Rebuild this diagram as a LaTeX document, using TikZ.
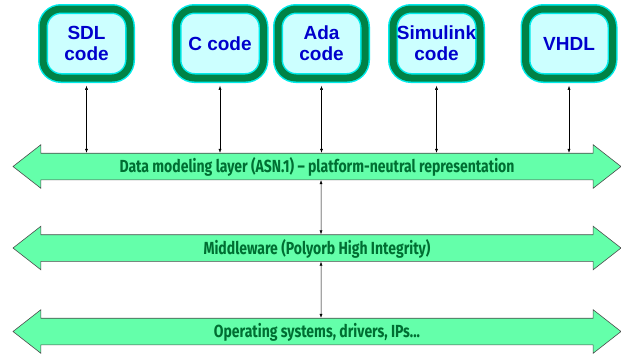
\documentclass[tikz,border=0pt]{standalone}
\usepackage{fontspec}
\setmainfont{Liberation Sans}
\newfontfamily\bandfont[FakeStretch=0.8]{Fira Sans}
\usetikzlibrary{shapes.arrows,arrows.meta}

\definecolor{lagoon}{RGB}{0,235,235}
\definecolor{forest}{RGB}{0,130,70}
\definecolor{ice}{RGB}{204,255,255}
\definecolor{ink}{RGB}{0,0,204}
\definecolor{mint}{RGB}{100,255,170}
\definecolor{leaf}{RGB}{0,110,50}

\tikzset{
	lang/.style={rectangle,rounded corners=18pt,draw=lagoon,line width=1.5pt,double=forest,double distance=7pt,fill=ice,
		minimum width=87pt,minimum height=69pt,inner sep=0pt,align=center,text=ink,font=\fontsize{19}{21}\selectfont\bfseries},
	layer/.style={double arrow,draw=black!70,line width=0.6pt,fill=mint,double arrow head extend=8.5pt,double arrow tip angle=76,
		minimum height=608pt,text height=12.5pt,text depth=0.5pt,inner ysep=6.5pt,text=leaf,font=\bandfont\fontsize{17.5}{20}\selectfont\bfseries},
	link/.style={{Latex[length=4pt,width=3pt]}-{Latex[length=4pt,width=3pt]},line width=0.5pt}
}

\begin{document}
\begin{tikzpicture}[x=1pt,y=-1pt]
	\useasboundingbox (0,0) rectangle (621,354);

	\node[lang] (SDL) at(86.5,43.5) {SDL\\code};
	\node[lang] (C) at(220,43.5) {C code};
	\node[lang] (Ada) at(321.5,43.5) {Ada\\code};
	\node[lang] (Sim) at(436.5,43.5) {Simulink\\code};
	\node[lang] (VHDL) at(569,43.5) {VHDL};

	\node[layer] (data) at(317,166.5) {Data modeling layer (ASN.1) – platform-neutral representation};
	\node[layer] (mw) at(317,248) {Middleware (Polyorb High Integrity)};
	\node[layer] (os) at(317,331.5) {Operating systems, drivers, IPs...};

	\draw[link,shorten <=7pt] (SDL.south)to(SDL.south |- data.north);
	\draw[link,shorten <=7pt] (C.south)to(C.south |- data.north);
	\draw[link,shorten <=7pt] (Ada.south)to(Ada.south |- data.north);
	\draw[link,shorten <=7pt] (Sim.south)to(Sim.south |- data.north);
	\draw[link,shorten <=7pt] (VHDL.south)to(VHDL.south |- data.north);

	\draw[link] ([xshift=4pt]data.south)to([xshift=4pt]mw.north);
	\draw[link] ([xshift=4pt]mw.south)to([xshift=4pt]os.north);
\end{tikzpicture}
\end{document}
